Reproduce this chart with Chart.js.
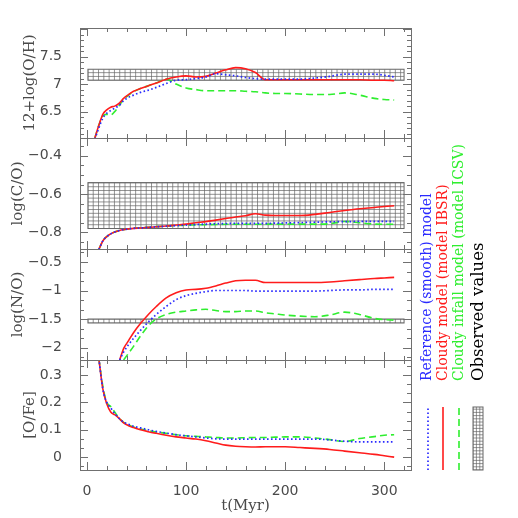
<!DOCTYPE html>
<html><head><meta charset="utf-8">
<script src="https://cdn.jsdelivr.net/npm/chart.js@4.4.1/dist/chart.umd.min.js"></script>
<style>
html,body{margin:0;padding:0;background:#fff;}
#wrap{position:relative;width:518px;height:518px;overflow:hidden;}
canvas{position:absolute;left:0;top:0;}
</style></head><body>
<div id="wrap">
<canvas id="c1" width="518" height="518"></canvas>
<canvas id="c2" width="518" height="518"></canvas>
<canvas id="c3" width="518" height="518"></canvas>
<canvas id="c4" width="518" height="518"></canvas>
</div>
<script>
// ---------- DATA ----------
const time = [8, 12, 16, 20, 24, 28, 33, 37, 42, 47, 54, 62, 70, 80, 90, 100, 110, 120, 130, 140, 150, 160, 170, 180, 190, 200, 215, 230, 245, 260, 275, 290, 300, 310];

const ohReference = [6.0,6.2,6.38,6.47,6.52,6.56,6.62,6.7,6.76,6.8,6.85,6.89,6.94,7.01,7.07,7.08,7.1,7.13,7.19,7.17,7.15,7.12,7.1,7.09,7.09,7.09,7.09,7.11,7.14,7.18,7.18,7.18,7.16,7.13];
const ohCloudy    = [6.02,6.25,6.45,6.53,6.58,6.6,6.66,6.74,6.81,6.87,6.92,6.97,7.02,7.09,7.13,7.15,7.13,7.14,7.2,7.26,7.3,7.28,7.21,7.08,7.08,7.08,7.08,7.08,7.08,7.08,7.08,7.07,7.07,7.06];
const ohInfall    = [6.02,6.25,6.42,6.45,6.44,6.5,6.62,6.72,6.8,6.86,6.92,6.97,7.02,7.09,7.0,6.93,6.9,6.88,6.88,6.88,6.88,6.87,6.86,6.84,6.83,6.83,6.82,6.81,6.81,6.84,6.8,6.74,6.72,6.71];

const coReference = [null,-0.89,-0.845,-0.822,-0.808,-0.798,-0.79,-0.786,-0.782,-0.779,-0.777,-0.774,-0.771,-0.768,-0.765,-0.762,-0.759,-0.757,-0.755,-0.754,-0.753,-0.753,-0.753,-0.753,-0.752,-0.751,-0.749,-0.747,-0.745,-0.744,-0.743,-0.743,-0.743,-0.743];
const coCloudy    = [null,-0.89,-0.845,-0.822,-0.808,-0.798,-0.79,-0.786,-0.782,-0.779,-0.777,-0.774,-0.771,-0.767,-0.762,-0.757,-0.75,-0.744,-0.736,-0.728,-0.72,-0.713,-0.703,-0.71,-0.712,-0.712,-0.712,-0.706,-0.696,-0.686,-0.677,-0.67,-0.665,-0.661];
const coInfall    = [null,-0.89,-0.845,-0.822,-0.808,-0.798,-0.79,-0.786,-0.782,-0.779,-0.776,-0.773,-0.77,-0.767,-0.764,-0.762,-0.761,-0.76,-0.759,-0.758,-0.758,-0.758,-0.758,-0.757,-0.757,-0.757,-0.757,-0.757,-0.755,-0.743,-0.75,-0.757,-0.758,-0.758];

const noReference = [null,null,null,null,null,null,-2.22,-2.08,-1.95,-1.84,-1.7,-1.55,-1.42,-1.28,-1.16,-1.09,-1.05,-1.02,-1.0,-1.0,-1.0,-1.0,-1.01,-1.01,-1.01,-1.01,-1.01,-1.01,-1.0,-0.99,-0.99,-0.98,-0.98,-0.98];
const noCloudy    = [null,null,null,null,null,null,-2.22,-2.02,-1.88,-1.74,-1.58,-1.42,-1.28,-1.13,-1.04,-0.99,-0.98,-0.96,-0.92,-0.87,-0.83,-0.82,-0.82,-0.86,-0.86,-0.86,-0.86,-0.86,-0.85,-0.83,-0.81,-0.79,-0.78,-0.77];
const noInfall    = [null,null,null,null,null,null,null,-2.22,-2.1,-1.98,-1.8,-1.62,-1.5,-1.42,-1.38,-1.36,-1.34,-1.33,-1.35,-1.37,-1.37,-1.36,-1.36,-1.39,-1.41,-1.43,-1.45,-1.46,-1.43,-1.38,-1.42,-1.49,-1.51,-1.52];

const ofeReference = [null,0.36,0.25,0.2,0.18,0.16,0.14,0.128,0.12,0.113,0.107,0.1,0.094,0.088,0.082,0.078,0.074,0.07,0.067,0.066,0.066,0.066,0.066,0.066,0.066,0.066,0.066,0.066,0.063,0.058,0.056,0.056,0.056,0.056];
const ofeCloudy    = [null,0.36,0.25,0.195,0.165,0.155,0.14,0.125,0.115,0.108,0.1,0.093,0.087,0.08,0.074,0.07,0.066,0.06,0.052,0.044,0.04,0.038,0.037,0.038,0.038,0.038,0.035,0.032,0.028,0.022,0.016,0.01,0.005,0.0];
const ofeInfall    = [null,0.36,0.26,0.2,0.185,0.165,0.14,0.127,0.117,0.11,0.103,0.097,0.092,0.087,0.082,0.078,0.076,0.074,0.072,0.07,0.07,0.071,0.072,0.072,0.073,0.074,0.074,0.07,0.064,0.057,0.068,0.075,0.08,0.082];

// observed ranges (low, high) and the time span they cover
const obsTime = [1, 320];
const obsOH = [7.07, 7.27];
const obsCO = [-0.78, -0.54];
const obsNO = [-1.57, -1.5];

const xTicks = [0, 100, 200, 300];
const ohTicks = [6.5, 7, 7.5];
const coTicks = [-0.8, -0.6, -0.4];
const noTicks = [-2, -1.5, -1, -0.5];
const ofeTicks = [0, 0.1, 0.2, 0.3];

const seriesNames = ['Reference (smooth) model', 'Cloudy model (model IBSR)', 'Cloudy infall model (model ICSV)'];
const obsName = 'Observed values';
const panelTitles = ['12+log(O/H)', 'log(C/O)', 'log(N/O)', '[O/Fe]'];
const xTitle = 't(Myr)';

// ---------- STYLE / LAYOUT ----------
const BLUE = '#2a2aff', RED = '#ff1c1c', GREEN = '#2fee2f';
const AXIS = '#707070', TXT = '#4a4a4a', HATCH = '#666666';
const PLOT_L = 80, PLOT_R = 411;
const panelTop = [28, 138, 249, 360];
const panelBot = [138, 249, 360, 470];

const panels = [
  {series:[ohReference, ohCloudy, ohInfall], min:6.02, max:8.02, ticks:ohTicks, major:0.5, nsub:5, obs:obsOH, titleX:30},
  {series:[coReference, coCloudy, coInfall], min:-0.887, max:-0.307, ticks:coTicks, major:0.2, nsub:4, obs:obsCO, titleX:18},
  {series:[noReference, noCloudy, noInfall], min:-2.219, max:-0.272, ticks:noTicks, major:0.5, nsub:3, obs:obsNO, titleX:18},
  {series:[ofeReference, ofeCloudy, ofeInfall], min:-0.047, max:0.355, ticks:ofeTicks, major:0.1, nsub:3, obs:null, titleX:30}
];

const dsStyles = [
  {color: BLUE, dash: [1.6, 2.4], width: 1.7},
  {color: RED, dash: [], width: 1.6},
  {color: GREEN, dash: [7, 4], width: 1.6}
];

function toXY(vals) { return time.map((t, i) => ({x: t, y: vals[i]})); }
function fmt(v) { return String(Math.round(v * 1000) / 1000).replace('-', '\u2212'); }

function drawHatch(ctx, x, y, w, h, dx, dy) {
  ctx.save();
  ctx.beginPath(); ctx.rect(x, y, w, h); ctx.clip();
  ctx.strokeStyle = HATCH; ctx.lineWidth = 0.7;
  ctx.beginPath();
  for (let xx = x; xx <= x + w + 0.01; xx += dx) { ctx.moveTo(xx, y); ctx.lineTo(xx, y + h); }
  for (let yy = y + h; yy >= y - 0.01; yy -= dy) { ctx.moveTo(x, yy); ctx.lineTo(x + w, yy); }
  ctx.stroke();
  ctx.restore();
  ctx.save();
  ctx.strokeStyle = HATCH; ctx.lineWidth = 1;
  ctx.strokeRect(x, y, w, h);
  ctx.restore();
}

function framePlugin(p) {
  return {
    id: 'frameTicks',
    beforeDatasetsDraw(chart) {
      if (!p.obs) return;
      const {ctx, scales: {x, y}} = chart;
      const x0 = x.getPixelForValue(obsTime[0]), x1 = x.getPixelForValue(obsTime[1]);
      const yHi = y.getPixelForValue(p.obs[1]), yLo = y.getPixelForValue(p.obs[0]);
      drawHatch(ctx, x0, yHi, x1 - x0, yLo - yHi, 5.3, 3.8);
    },
    afterDatasetsDraw(chart) {
      const {ctx, chartArea: a, scales: {x, y}} = chart;
      ctx.save();
      ctx.strokeStyle = AXIS; ctx.lineWidth = 1;
      ctx.strokeRect(Math.round(a.left) + 0.5, Math.round(a.top) + 0.5, Math.round(a.right - a.left), Math.round(a.bottom - a.top));
      ctx.beginPath();
      for (let v = 0; v <= 320; v += 20) {
        const px = Math.round(x.getPixelForValue(v)) + 0.5;
        const len = (v % 100 === 0) ? 8 : 4;
        ctx.moveTo(px, a.bottom); ctx.lineTo(px, a.bottom - len);
        ctx.moveTo(px, a.top); ctx.lineTo(px, a.top + len);
      }
      const step = p.major / p.nsub;
      const start = Math.ceil(p.min / step - 1e-6);
      const end = Math.floor(p.max / step + 1e-6);
      for (let k = start; k <= end; k++) {
        const v = k * step;
        const isMajor = Math.abs(v / p.major - Math.round(v / p.major)) < 1e-6;
        const py = Math.round(y.getPixelForValue(v)) + 0.5;
        const len = isMajor ? 8 : 4;
        ctx.moveTo(a.left, py); ctx.lineTo(a.left + len, py);
        ctx.moveTo(a.right, py); ctx.lineTo(a.right - len, py);
      }
      ctx.stroke();
      ctx.restore();
    }
  };
}

const legendPlugin = {
  id: 'sideLegend',
  afterDraw(chart) {
    const ctx = chart.ctx;
    const textX = [427, 443, 459];
    const lineX = [428, 443, 459];
    const baseY = 381;
    ctx.save();
    chart.data.datasets.forEach((ds, i) => {
      ctx.save();
      ctx.translate(textX[i], baseY);
      ctx.rotate(-Math.PI / 2);
      ctx.font = '14px "DejaVu Serif"';
      ctx.fillStyle = ds.borderColor;
      ctx.textAlign = 'left'; ctx.textBaseline = 'middle';
      ctx.fillText(ds.label, 0, 0);
      ctx.restore();
      ctx.save();
      ctx.strokeStyle = ds.borderColor; ctx.lineWidth = ds.borderWidth;
      ctx.setLineDash(ds.borderDash || []);
      ctx.beginPath(); ctx.moveTo(lineX[i], 470); ctx.lineTo(lineX[i], 407); ctx.stroke();
      ctx.restore();
    });
    ctx.save();
    ctx.translate(479, baseY);
    ctx.rotate(-Math.PI / 2);
    ctx.font = '16.5px "DejaVu Serif"';
    ctx.fillStyle = '#000';
    ctx.textAlign = 'left'; ctx.textBaseline = 'middle';
    ctx.fillText(obsName, 0, 0);
    ctx.restore();
    drawHatch(ctx, 473, 407, 10, 63, 3.4, 3.2);
    ctx.restore();
  }
};

function makeChart(idx) {
  const p = panels[idx];
  const isBottom = idx === 3;
  const datasets = p.series.map((vals, i) => ({
    label: seriesNames[i],
    data: toXY(vals),
    borderColor: dsStyles[i].color,
    borderDash: dsStyles[i].dash,
    borderWidth: dsStyles[i].width,
    pointRadius: 0,
    fill: false,
    cubicInterpolationMode: 'monotone'
  }));
  const tickFont = {family: '"DejaVu Sans"', size: 14};
  const titleFont = {family: '"DejaVu Serif"', size: 15, lineHeight: 1.2};
  new Chart(document.getElementById('c' + (idx + 1)), {
    type: 'line',
    data: {datasets},
    options: {
      responsive: false, animation: false, devicePixelRatio: 1,
      layout: {padding: {left: 0, right: 518 - PLOT_R, top: panelTop[idx], bottom: isBottom ? 0 : 518 - panelBot[idx]}},
      plugins: {legend: {display: false}, tooltip: {enabled: false}},
      scales: {
        x: {
          type: 'linear', min: -7, max: 327, display: isBottom,
          afterBuildTicks: s => { s.ticks = xTicks.map(v => ({value: v})); },
          afterFit: s => { s.height = isBottom ? 518 - panelBot[3] : 0; },
          grid: {display: false}, border: {display: false},
          ticks: {padding: 5, font: tickFont, color: TXT, maxRotation: 0},
          title: {display: true, text: xTitle, font: titleFont, color: TXT, padding: {top: 0, bottom: 3}}
        },
        y: {
          type: 'linear', min: p.min, max: p.max,
          afterBuildTicks: s => { s.ticks = p.ticks.map(v => ({value: v})); },
          afterFit: s => { s.width = PLOT_L; },
          grid: {display: false}, border: {display: false},
          ticks: {padding: 10, font: tickFont, color: TXT, callback: v => fmt(v)},
          title: {display: true, text: panelTitles[idx], font: titleFont, color: TXT, padding: {top: p.titleX - 9, bottom: 0}}
        }
      }
    },
    plugins: isBottom ? [framePlugin(p), legendPlugin] : [framePlugin(p)]
  });
}
[0, 1, 2, 3].forEach(makeChart);
</script>
</body></html>
